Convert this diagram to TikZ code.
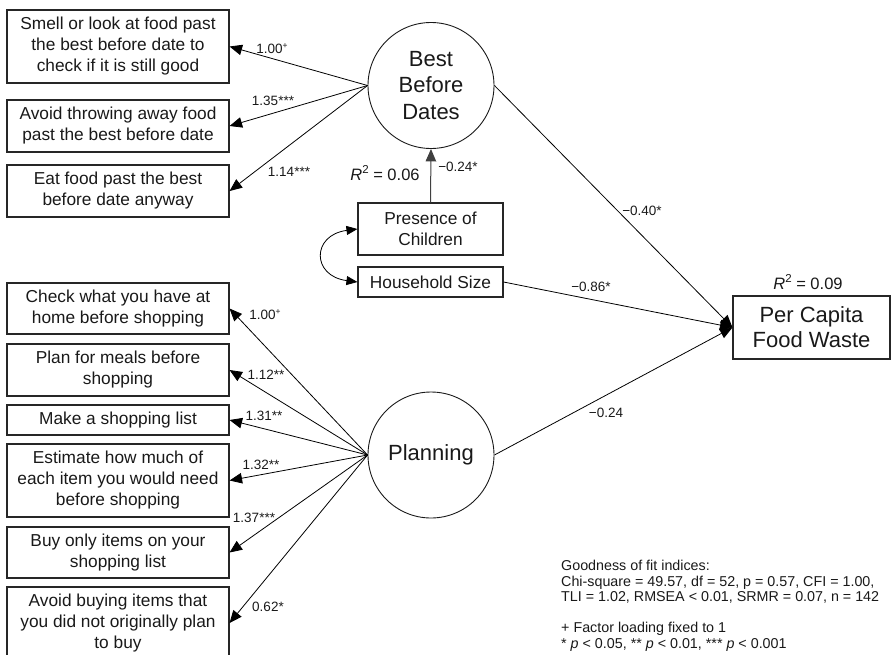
\documentclass[tikz,border=0pt]{standalone}
\usepackage{fontspec}
\setmainfont{Liberation Sans}
\usetikzlibrary{arrows.meta}
\newcommand{\supp}[1]{\raisebox{0.38em}{\fontsize{8.5}{8.5}\selectfont #1}}
\newcommand{\rsq}{{\itshape R}\raisebox{0.42em}{\fontsize{11.5}{11.5}\selectfont 2}}
\begin{document}
\begin{tikzpicture}[x=1pt,y=-1pt,
  box/.style={draw=black!85,line width=1.1pt,align=center,inner sep=0pt,
    font=\fontsize{17.3}{21}\selectfont,text=black!90},
  lat/.style={draw=black!90,circle,minimum size=126pt,inner sep=0pt,line width=0.9pt,
    align=center,font=\fontsize{22}{26.5}\selectfont,text=black!90},
  conn/.style={line width=0.8pt,-{Triangle[length=12.5pt,width=10.5pt]}},
  coef/.style={font=\fontsize{13.5}{15}\selectfont,inner sep=0pt,text=black!90},
  rlab/.style={font=\fontsize{16.5}{18}\selectfont,inner sep=0pt,text=black!90},
]
\useasboundingbox (0,0) rectangle (895,654);

% Best Before Dates indicators
\node[box,minimum width=222pt,minimum height=73pt] (b1) at (118,46.5)
  {Smell or look at food past\\the best before date to\\check if it is still good};
\node[box,minimum width=222pt,minimum height=52pt] (b2) at (118,126)
  {Avoid throwing away food\\past the best before date};
\node[box,minimum width=222pt,minimum height=52pt] (b3) at (118,191)
  {Eat food past the best\\before date anyway};

% Planning indicators
\node[box,minimum width=222pt,minimum height=51pt] (p1) at (118,308.5)
  {Check what you have at\\home before shopping};
\node[box,minimum width=222pt,minimum height=52pt] (p2) at (118,370)
  {Plan for meals before\\shopping};
\node[box,minimum width=222pt,minimum height=30pt] (p3) at (118,420)
  {Make a shopping list};
\node[box,minimum width=222pt,minimum height=73pt] (p4) at (118,480.5)
  {Estimate how much of\\each item you would need\\before shopping};
\node[box,minimum width=222pt,minimum height=51pt] (p5) at (118,552.5)
  {Buy only items on your\\shopping list};
\node[box,minimum width=222pt,minimum height=72pt] (p6) at (118,623)
  {Avoid buying items that\\you did not originally plan\\to buy};

% latent variables
\node[lat] (bbd) at (431,85.5) {Best\\Before\\Dates};
\node[lat] (plan) at (431,455) {Planning};

% covariates
\node[box,minimum width=145pt,minimum height=52pt] (pres) at (430.5,229)
  {Presence of\\Children};
\node[box,minimum width=145pt,minimum height=30pt] (hh) at (430.5,282)
  {Household Size};

% outcome
\node[box,minimum width=157pt,minimum height=63pt,font=\fontsize{22}{25}\selectfont] (pcfw) at (811.5,327.5)
  {Per Capita\\Food Waste};

% loadings
\draw[conn] (bbd.west) -- (b1.east);
\draw[conn] (bbd.west) -- (b2.east);
\draw[conn] (bbd.west) -- (b3.east);
\foreach \n in {p1,p2,p3,p4,p5,p6}{\draw[conn] (plan.west) -- (\n.east);}

% structural paths
\draw[line width=1pt,draw=black!75,-{Triangle[length=12.5pt,width=10.5pt]}] (pres.north) -- (bbd.south);
\draw[conn] (bbd.east) -- (pcfw.west);
\draw[conn] (hh.east) -- (pcfw.west);
\draw[conn] (plan.east) -- (pcfw.west);
\draw[line width=0.8pt,{Triangle[length=11pt,width=9pt]}-{Triangle[length=11pt,width=9pt]}]
  (pres.west) .. controls +(-46,6) and +(-46,-6) .. (hh.west);

% coefficient labels
\node[coef] (l1) at (272,49) {1.00\supp{+}};
\node[coef] (l2) at (273,101) {1.35***};
\node[coef] (l3) at (289,172) {1.14***};
\node[coef] (l4) at (265,315) {1.00\supp{+}};
\node[coef] (l5) at (266,375) {1.12**};
\node[coef] (l6) at (264,416) {1.31**};
\node[coef] (l7) at (261,465) {1.32**};
\node[coef] (l8) at (254,518) {1.37***};
\node[coef] (l9) at (268,607) {0.62*};
\node[coef] (l10) at (458,167) {−0.24*};
\node[coef] (l11) at (642,211) {−0.40*};
\node[coef] (l12) at (591,287) {−0.86*};
\node[coef] (l13) at (606,413) {−0.24};
\node[rlab] (r1) at (385,173) {\rsq{} = 0.06};
\node[rlab] (r2) at (808,282) {\rsq{} = 0.09};

% notes
\node[anchor=north west,align=left,inner sep=0pt,font=\fontsize{14.3}{15.5}\selectfont,text=black!90] (notes) at (561,560)
  {Goodness of fit indices:\\
   Chi-square = 49.57, df = 52, p = 0.57, CFI = 1.00,\\
   TLI = 1.02, RMSEA < 0.01, SRMR = 0.07, n = 142\\[15.5pt]
   + Factor loading fixed to 1\\
   * {\itshape p} < 0.05, ** {\itshape p} < 0.01, *** {\itshape p} < 0.001};
\end{tikzpicture}
\end{document}
